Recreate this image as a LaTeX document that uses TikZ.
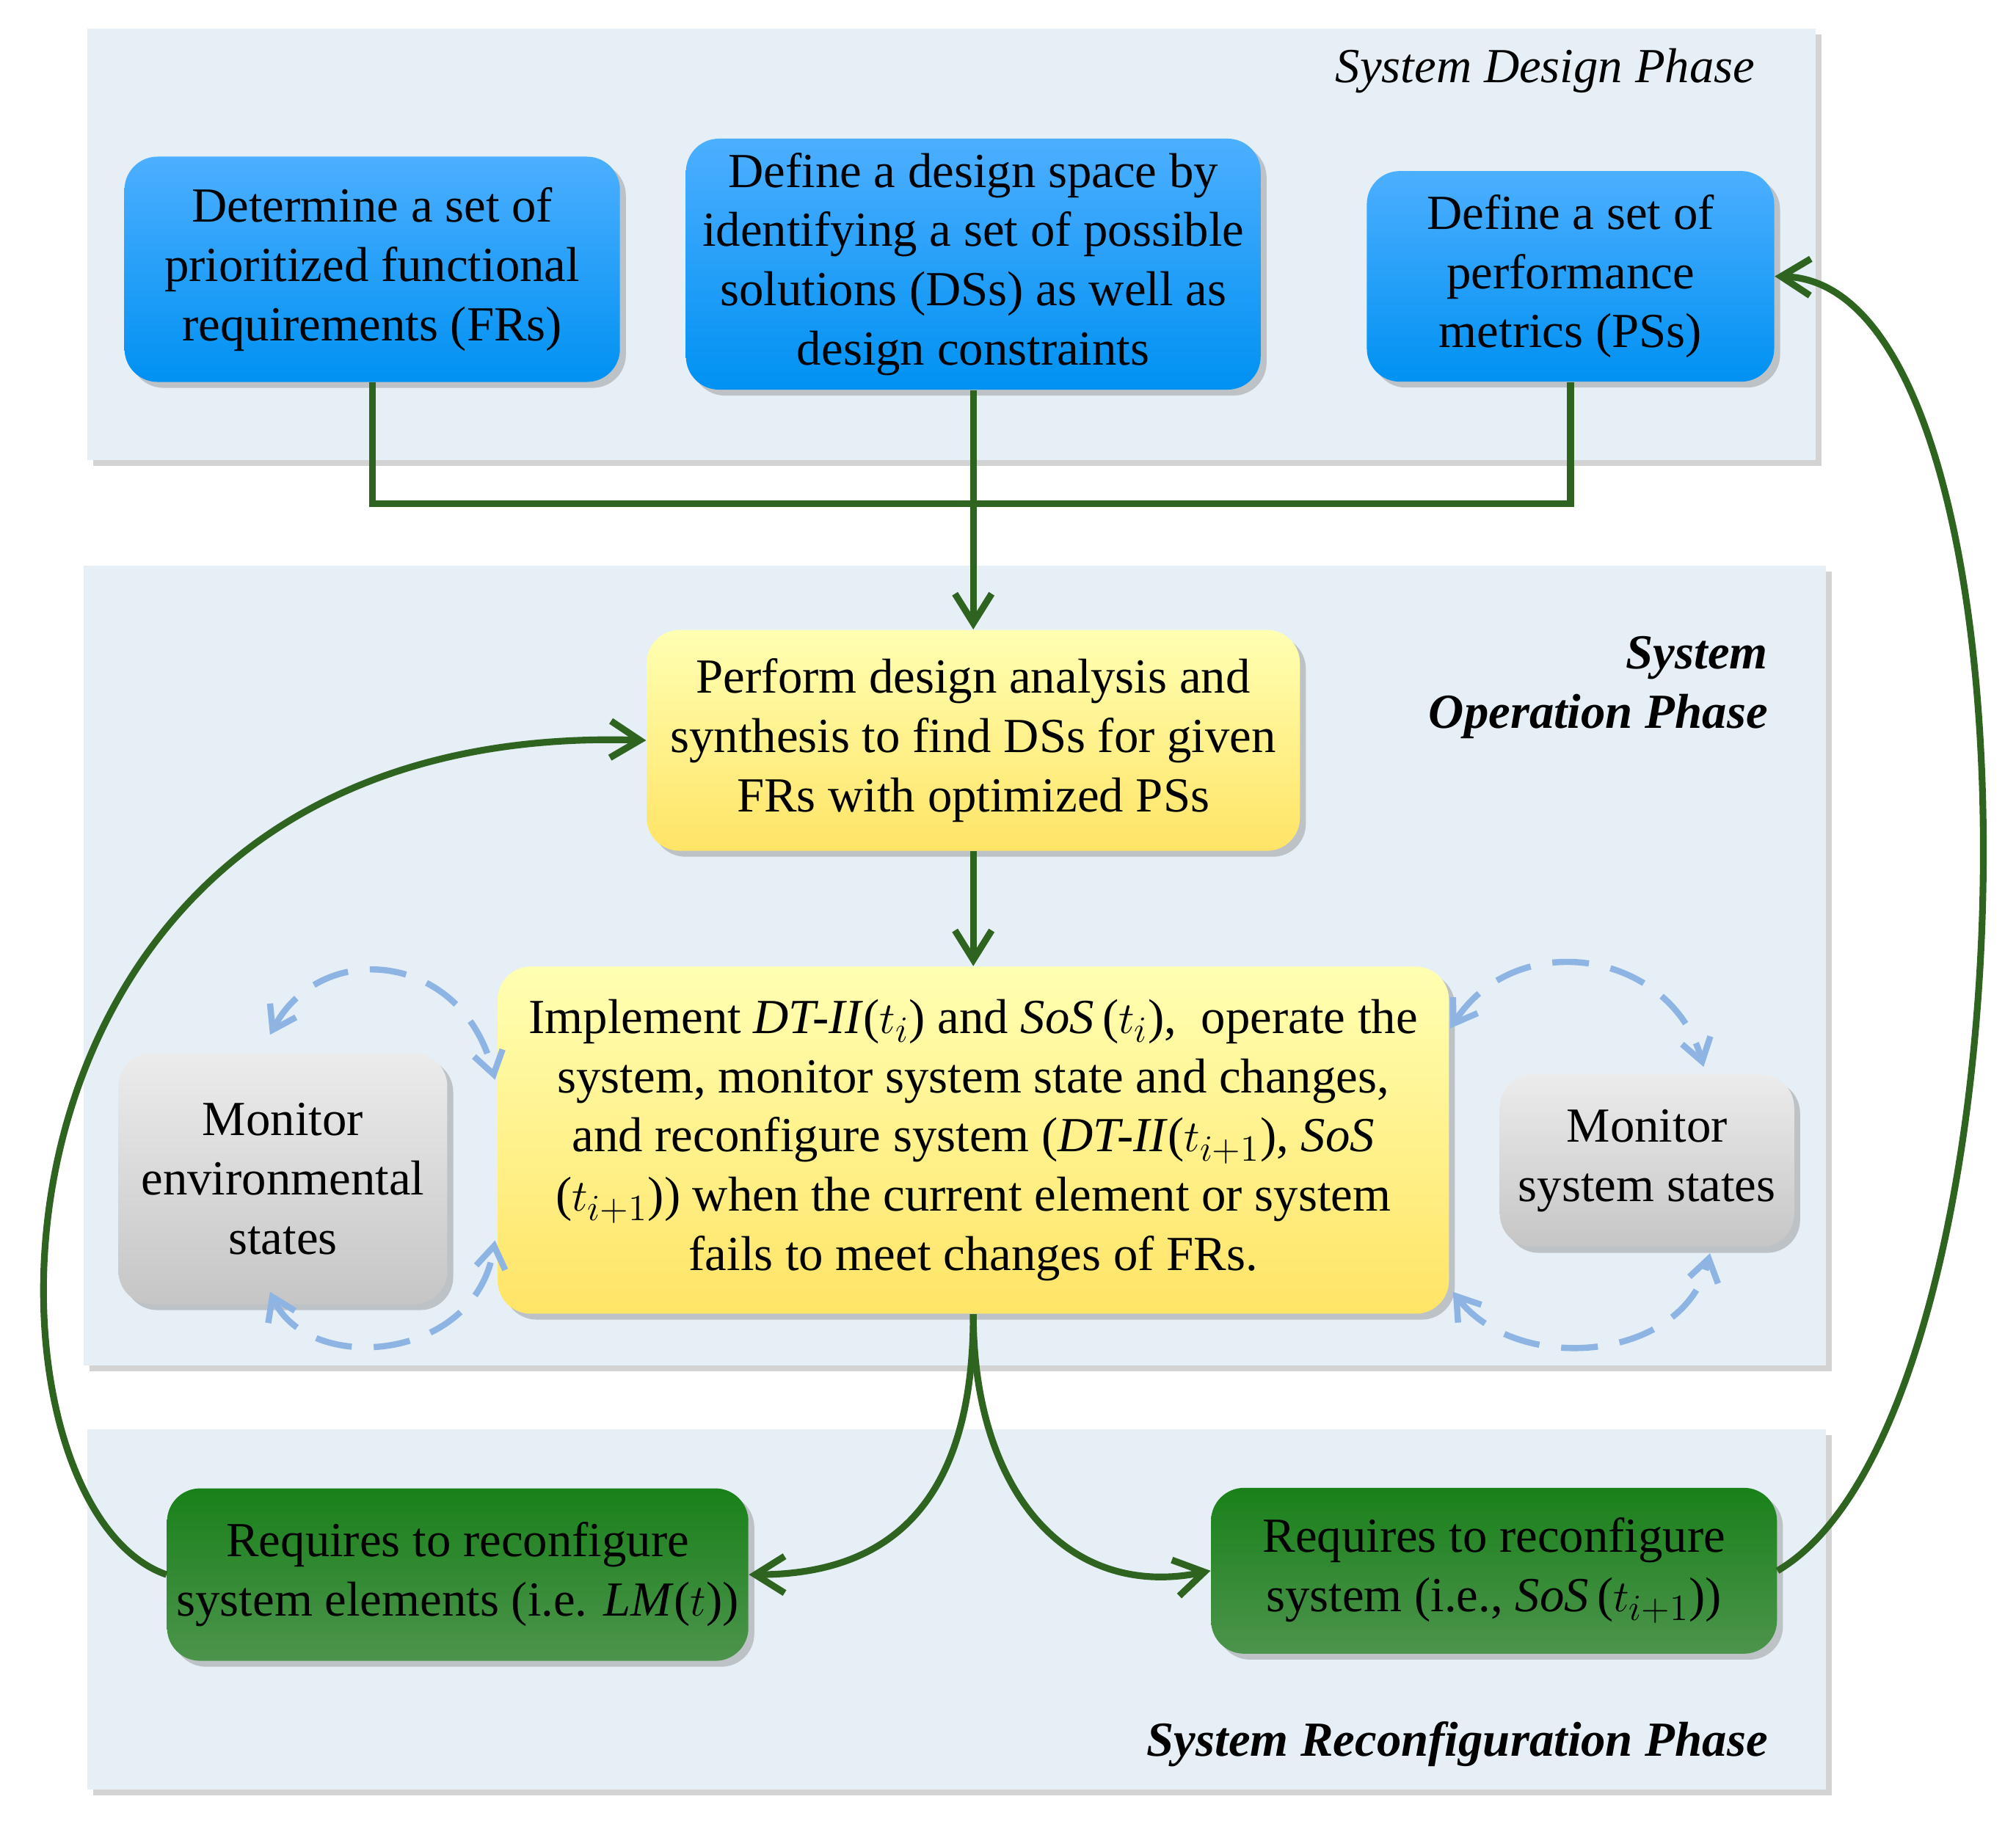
\documentclass[tikz,border=0pt]{standalone}
\usepackage{fontspec}
\setmainfont{Liberation Serif}
\usetikzlibrary{arrows.meta, calc, positioning, shadows}
\definecolor{darkarrow}{HTML}{2E6420}
\definecolor{panelfill}{HTML}{E6EFF6}
\definecolor{loopblue}{HTML}{8DB4E2}
\tikzset
{%
panel/.style={draw=none, fill=panelfill, drop shadow={opacity=0.35}},
box/.style={rounded corners=0.45cm, align=center, inner sep=0pt, font=\fontsize{19}{23}\selectfont, drop shadow={opacity=0.4}},
blue/.style={box, top color=cyan!55!blue!70, bottom color=cyan!60!blue!95!black, text=black},
yellow/.style={box, top color=yellow!30, bottom color=orange!35!yellow!60},
grey/.style={box, top color=gray!15, bottom color=gray!45},
greenbox/.style={box, top color=green!45!black!90, bottom color=green!40!black!70, text=black},
flow/.style={draw=darkarrow, line width=2.6pt, -{Straight Barb[length=4mm, width=5mm]}},
link/.style={draw=darkarrow, line width=2.6pt},
loop/.style={draw=loopblue, line width=2.4pt, dashed, dash pattern=on 5mm off 3mm, {Straight Barb[length=3mm, width=4mm]}-{Straight Barb[length=3mm, width=4mm]}},
phase/.style={font=\fontsize{19}{23}\selectfont\itshape, align=right, anchor=east}
}
\begin{document}
\begin{tikzpicture}[x=0.01752cm, y=-0.01752cm]
	\useasboundingbox (0,0) rectangle (1568,1419);
	
	% PANELS
	\path[panel] (68,22) rectangle (1412,358);
	\path[panel] (65,440) rectangle (1420,1062);
	\path[panel] (68,1112) rectangle (1420,1392);
	\node[phase] (design) at (1372,55) {System Design Phase};
	\node[phase, font=\fontsize{19}{23}\selectfont\bfseries\itshape] (operation) at (1382,535) {System\\Operation Phase};
	\node[phase, font=\fontsize{19}{23}\selectfont\bfseries\itshape] (reconf) at (1382,1357) {System Reconfiguration Phase};
	
	% DESIGN
	\node[blue, minimum width=6.75cm, minimum height=3.07cm] (frs) at (289.5,209.5) {Determine a set of\\prioritized functional\\requirements (FRs)};
	\node[blue, minimum width=7.83cm, minimum height=3.42cm] (dss) at (757,205.5) {Define a design space by\\identifying a set of possible\\solutions (DSs) as well as\\design constraints};
	\node[blue, minimum width=5.55cm, minimum height=2.87cm] (pss) at (1221.5,215) {Define a set of\\performance\\metrics (PSs)};
	
	% OPERATION
	\node[yellow, minimum width=8.9cm, minimum height=3.01cm] (synth) at (757,576) {Perform design analysis and\\synthesis to find DSs for given\\FRs with optimized PSs};
	\node[yellow, minimum width=12.96cm, minimum height=4.73cm] (impl) at (757,887) {Implement \textit{DT-II}($t_i$) and \textit{SoS}\,($t_i$),~ operate the\\system, monitor system state and changes,\\and reconfigure system (\textit{DT-II}($t_{i+1}$), \textit{SoS}\\($t_{i+1}$)) when the current element or system\\fails to meet changes of FRs.};
	\node[grey, minimum width=4.48cm, minimum height=3.42cm] (env) at (220,917) {Monitor\\environmental\\states};
	\node[grey, minimum width=4.01cm, minimum height=2.35cm] (sys) at (1281,903) {Monitor\\system states};
	
	% RECONFIGURATION
	\node[greenbox, minimum width=7.92cm, minimum height=2.35cm] (elem) at (356,1225) {Requires to reconfigure\\system elements (i.e. \textit{LM}($t$))};
	\node[greenbox, minimum width=7.71cm, minimum height=2.26cm] (whole) at (1162,1222) {Requires to reconfigure\\system (i.e., \textit{SoS}\,($t_{i+1}$))};
	
	\coordinate (join) at (757,392);
	\path[link] (frs.south) |- (join) -| (pss.south);
	\path[flow] (dss.south) -- (synth.north);
	\path[flow] (synth.south) -- (impl.north);
	\path[flow] (impl.south) .. controls (757,1160) and (700,1225) .. (elem.east);
	\path[flow] (impl.south) .. controls (757,1160) and (830,1245) .. (whole.west);
	\path[flow] (elem.west) .. controls (-30,1170) and (-40,560) .. (synth.west);
	\path[flow] (whole.east) .. controls (1590,1100) and (1600,220) .. (pss.east);
	
	\path[loop] (210,805) .. controls (250,730) and (360,740) .. (385,840);
	\path[loop] (210,1005) .. controls (240,1070) and (370,1060) .. (385,965);
	\path[loop] (1128,800) .. controls (1180,720) and (1300,740) .. (1325,830);
	\path[loop] (1130,1005) .. controls (1180,1070) and (1310,1060) .. (1330,975);
\end{tikzpicture}
\end{document}
